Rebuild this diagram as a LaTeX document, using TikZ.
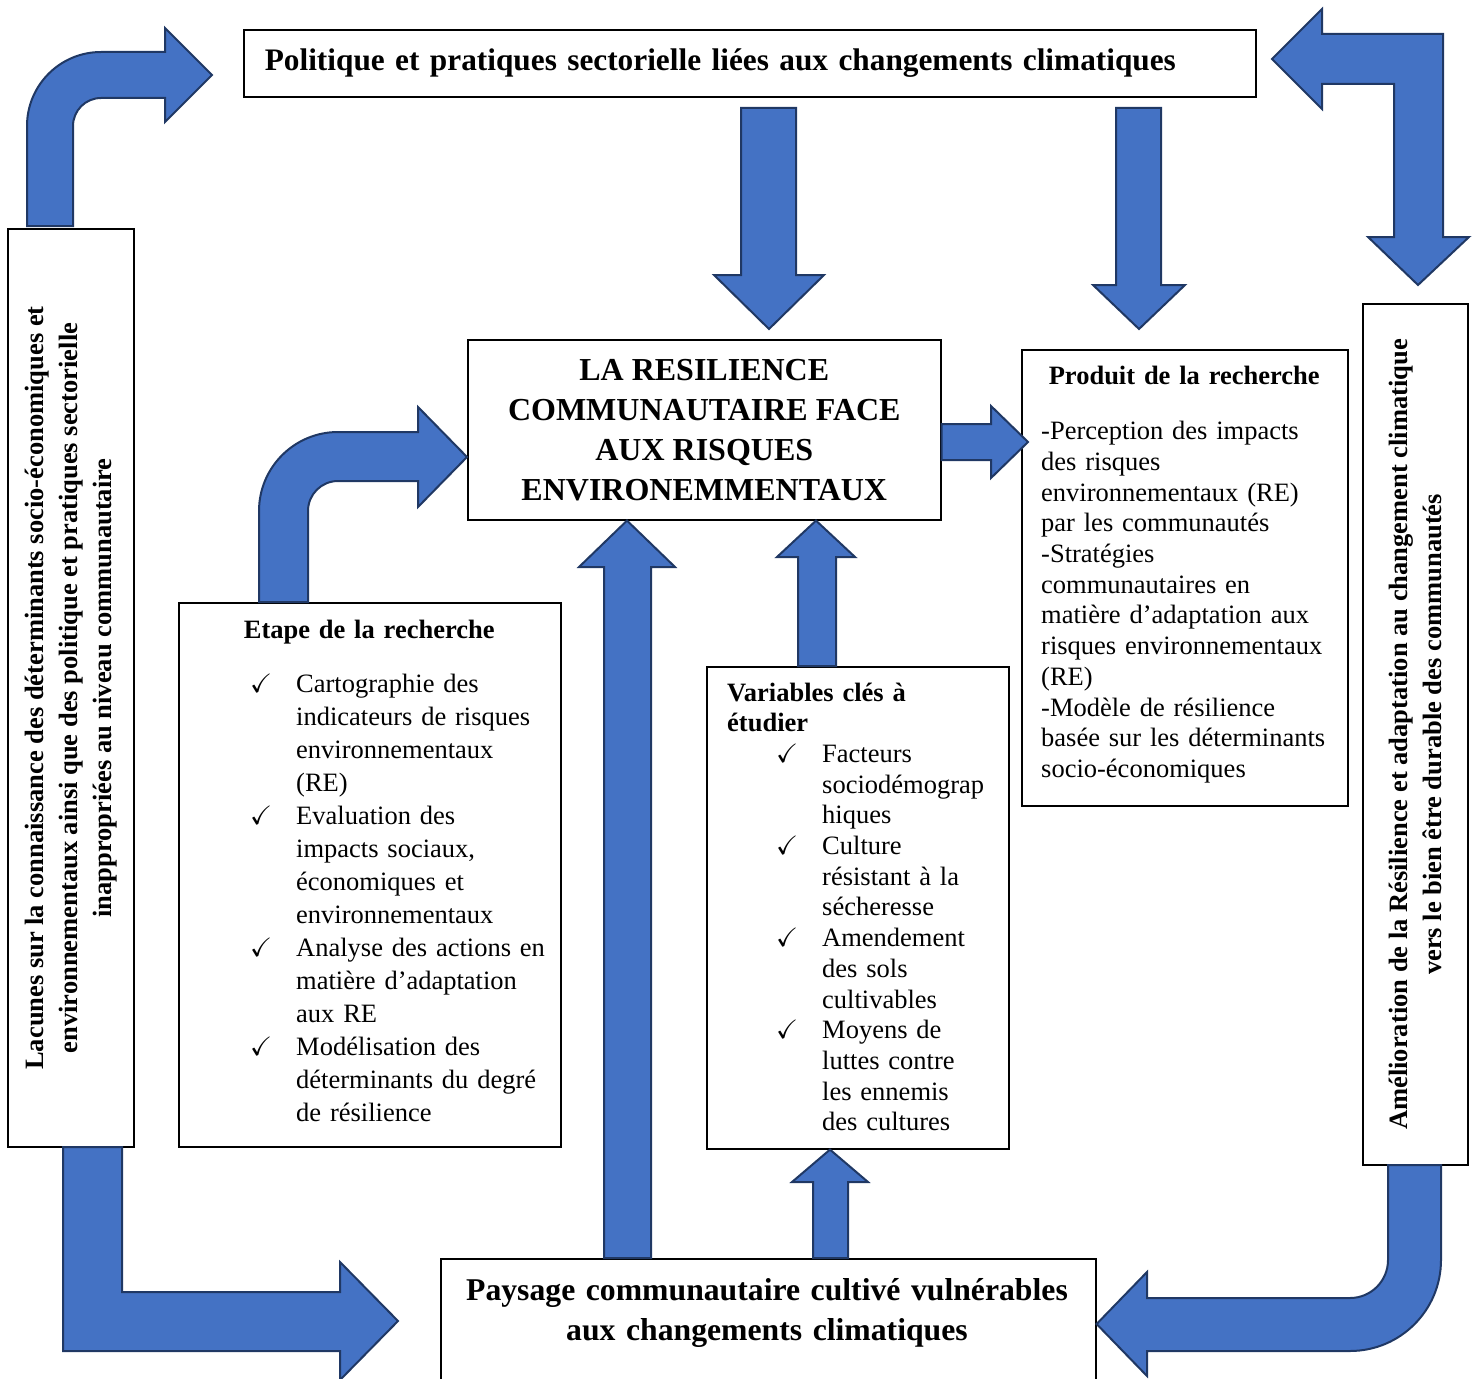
\documentclass[tikz,border=0pt]{standalone}
\usepackage{amssymb}
\usepackage{fontspec}
\setmainfont{Liberation Serif}
\usepackage{tikz}
\usetikzlibrary{positioning, calc}
\definecolor{arrblue}{RGB}{68,114,196}
\definecolor{arrnavy}{RGB}{32,56,100}
\newcommand{\ckmark}[1]{\hspace*{#1}\makebox[46pt][l]{$\checkmark$}}
\newcommand{\ckskip}[1]{\hspace*{#1}\hspace*{46pt}}
\tikzset{
  box/.style={rectangle, draw=black, fill=white, line width=1.6pt, inner sep=0pt},
  bigtitle/.style={font=\bfseries\fontsize{32}{40}\selectfont},
  sidetext/.style={font=\bfseries\fontsize{26.5}{34}\selectfont, align=center},
  listtext/.style={inner sep=0pt, align=left, font=\fontsize{26.5}{33}\selectfont},
  blockarrow/.style={fill=arrblue, draw=arrnavy, line width=2pt, line join=miter}
}

\begin{document}
\begin{tikzpicture}[x=1pt, y=-1pt]
  \useasboundingbox (0,0) rectangle (1477,1378);
  % Boxes
  \node[box, bigtitle, font=\bfseries\fontsize{31.3}{40}\selectfont, anchor=north west,
    minimum height=67pt, text width=970pt, inner xsep=21pt, align=left] (pol) at (243,29)
    {Politique et pratiques sectorielle liées aux changements climatiques};
  \node[box, bigtitle, anchor=north west, minimum width=473pt, minimum height=180pt,
    align=center] (res) at (467,339)
    {LA RESILIENCE\\COMMUNAUTAIRE FACE\\AUX RISQUES\\ENVIRONEMMENTAUX};
  \node[box, anchor=north west, minimum width=326pt, minimum height=456pt] (prod) at (1021,349) {};
  \node[box, anchor=north west, minimum width=382pt, minimum height=544pt] (etape) at (178,602) {};
  \node[box, anchor=north west, minimum width=302pt, minimum height=482pt] (vars) at (706,666) {};
  \node[box, anchor=north west, minimum width=655pt, minimum height=140pt] (pay) at (440,1258) {};
  \node[box, sidetext, rotate=90, minimum width=918pt, minimum height=126pt] (gaps) at (71,688)
    {Lacunes sur la connaissance des déterminants socio-économiques et\\
     environnementaux ainsi que des politique et pratiques sectorielle\\
     inappropriées au niveau communautaire};
  \node[box, sidetext, rotate=90, minimum width=861pt, minimum height=105pt] (amel) at (1415.5,734.5)
    {Amélioration de la Résilience et adaptation au changement climatique\\
     vers le bien être durable des communautés};

  % Box texts
  \node[listtext, font=\fontsize{26.5}{30.7}\selectfont, anchor=base west, text width=306pt]
    (prodtxt) at (1041,384)
    {\makebox[286pt]{\bfseries Produit de la recherche}\\[25pt]
     -Perception des impacts\\
     des risques\\
     environnementaux (RE)\\
     par les communautés\\
     -Stratégies\\
     communautaires en\\
     matière d’adaptation aux\\
     risques environnementaux\\
     (RE)\\
     -Modèle de résilience\\
     basée sur les déterminants\\
     socio-économiques};
  \node[listtext, anchor=base west, text width=382pt] (etapetxt) at (178,638)
    {\makebox[382pt]{\bfseries Etape de la recherche}\\[21pt]
     \ckmark{72pt}Cartographie des\\
     \ckskip{72pt}indicateurs de risques\\
     \ckskip{72pt}environnementaux\\
     \ckskip{72pt}(RE)\\
     \ckmark{72pt}Evaluation des\\
     \ckskip{72pt}impacts sociaux,\\
     \ckskip{72pt}économiques et\\
     \ckskip{72pt}environnementaux\\
     \ckmark{72pt}Analyse des actions en\\
     \ckskip{72pt}matière d’adaptation\\
     \ckskip{72pt}aux RE\\
     \ckmark{72pt}Modélisation des\\
     \ckskip{72pt}déterminants du degré\\
     \ckskip{72pt}de résilience};
  \node[listtext, font=\fontsize{26.5}{30.7}\selectfont, anchor=base west, text width=281pt]
    (varstxt) at (727,701)
    {\textbf{Variables clés à}\\
     \textbf{étudier}\\
     \ckmark{49pt}Facteurs\\
     \ckskip{49pt}sociodémograp\\
     \ckskip{49pt}hiques\\
     \ckmark{49pt}Culture\\
     \ckskip{49pt}résistant à la\\
     \ckskip{49pt}sécheresse\\
     \ckmark{49pt}Amendement\\
     \ckskip{49pt}des sols\\
     \ckskip{49pt}cultivables\\
     \ckmark{49pt}Moyens de\\
     \ckskip{49pt}luttes contre\\
     \ckskip{49pt}les ennemis\\
     \ckskip{49pt}des cultures};
  \node[bigtitle, font=\bfseries\fontsize{31.7}{40}\selectfont, anchor=base, text width=640pt,
    align=center, inner sep=0pt] (paytxt) at (767,1300)
    {Paysage communautaire cultivé vulnérables\\aux changements climatiques};

  % Lacunes -> politique
  \draw[blockarrow] (27,226) -- (27,126) arc[start angle=180, end angle=270, radius=74]
    -- (165,52) -- (165,28) -- (212,75) -- (165,122) -- (165,98) -- (101,98)
    arc[start angle=270, end angle=180, radius=28] -- (73,226) -- cycle;
  % Politique <-> amelioration
  \draw[blockarrow] (1272,59) -- (1322,9) -- (1322,34) -- (1443,34) -- (1443,237) -- (1469,237)
    -- (1418,285) -- (1368,237) -- (1394,237) -- (1394,84) -- (1322,84) -- (1322,109) -- cycle;
  % Politique -> resilience, politique -> produit
  \draw[blockarrow] (741,108) -- (796,108) -- (796,275) -- (824,275) -- (769,329) -- (714,275) -- (741,275) -- cycle;
  \draw[blockarrow] (1116,108) -- (1161,108) -- (1161,285) -- (1185,285) -- (1139,329) -- (1093,285) -- (1116,285) -- cycle;
  % Resilience -> produit
  \draw[blockarrow] (res.east |- 0,424) -- (991,424) -- (991,406) -- (1028,442) -- (991,478)
    -- (991,460) -- (res.east |- 0,460) -- cycle;
  % Etape -> resilience
  \draw[blockarrow] (259,0 |- etape.north) -- (259,511) arc[start angle=180, end angle=270, radius=79]
    -- (418,432) -- (418,407) -- (res.west |- 0,457) -- (418,507) -- (418,481) -- (338,481)
    arc[start angle=270, end angle=180, radius=30] -- (308,0 |- etape.north) -- cycle;
  % Paysage -> resilience, variables -> resilience, paysage -> variables
  \draw[blockarrow] (604,0 |- pay.north) -- (604,567) -- (579,567) -- (627,0 |- res.south)
    -- (675,567) -- (651,567) -- (651,0 |- pay.north) -- cycle;
  \draw[blockarrow] (798,0 |- vars.north) -- (798,557) -- (777,557) -- (816,0 |- res.south)
    -- (855,557) -- (836,557) -- (836,0 |- vars.north) -- cycle;
  \draw[blockarrow] (813,0 |- pay.north) -- (813,1182) -- (792,1182) -- (830,0 |- vars.south)
    -- (868,1182) -- (848,1182) -- (848,0 |- pay.north) -- cycle;
  % Lacunes -> paysage
  \draw[blockarrow] (63,1147) -- (122,1147) -- (122,1292) -- (340,1292) -- (340,1262) -- (398,1321)
    -- (340,1380) -- (340,1351) -- (63,1351) -- cycle;
  % Amelioration -> paysage
  \draw[blockarrow] (1388,1165) -- (1441,1165) -- (1441,1260) arc[start angle=0, end angle=90, radius=91]
    -- (1147,1351) -- (1147,1376) -- (pay.east |- 0,1324) -- (1147,1272) -- (1147,1298) -- (1350,1298)
    arc[start angle=90, end angle=0, radius=38] -- cycle;
\end{tikzpicture}
\end{document}
